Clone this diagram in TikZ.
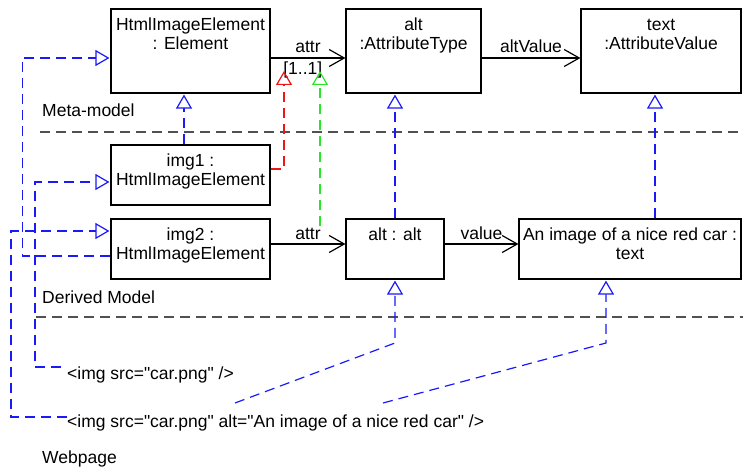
\documentclass[tikz,border=0pt]{standalone}
\usepackage{fontspec}
\setmainfont{Liberation Sans}[Ligatures=TeXOff]
\usetikzlibrary{arrows.meta,calc}
\definecolor{rblue}{RGB}{25,25,250}
\definecolor{rred}{RGB}{240,20,20}
\definecolor{rgreen}{RGB}{40,230,40}
\definecolor{rgrey}{RGB}{80,80,80}
\begin{document}
\begin{tikzpicture}[x=1pt,y=-1pt,
  every node/.style={font=\fontsize{17.5}{19}\selectfont},
  obj/.style={draw, line width=1.2pt, rectangle, inner sep=0pt},
  boxtext/.style={anchor=north, align=center, inner sep=0pt, yshift=-8.7pt},
  lab/.style={anchor=base, yshift=5pt},
  assoc/.style={line width=1.2pt, -{Straight Barb[length=15pt,width=17pt,line width=1.2pt]}},
  realbase/.style={line width=1.2pt, dash pattern=on 10pt off 6pt,
     -{Triangle[open,length=14pt,width=16pt,line width=1.2pt]}, shorten >=1pt},
  real/.style={realbase, draw=rblue},
  redreal/.style={realbase, draw=rred},
  greenreal/.style={realbase, draw=rgreen},
  sep/.style={line width=1.2pt, draw=rgrey, dash pattern=on 10pt off 6pt},
  plain/.style={inner sep=0pt}]
\useasboundingbox (0,0) rectangle (743,468);

% boxes
\node[obj, minimum width=159pt, minimum height=84pt,
  label={[boxtext]north:\strut HtmlImageElement\\: Element}] (hie) at (190.5,51) {};
\node[obj, minimum width=135pt, minimum height=84pt,
  label={[boxtext]north:\strut alt\\:AttributeType}] (at) at (413.5,51) {};
\node[obj, minimum width=160pt, minimum height=84pt,
  label={[boxtext]north:\strut text\\:AttributeValue}] (av) at (661,51) {};
\node[obj, minimum width=159pt, minimum height=60pt,
  label={[boxtext]north:\strut img1 :\\HtmlImageElement}] (img1) at (190.5,175) {};
\node[obj, minimum width=159pt, minimum height=60pt,
  label={[boxtext]north:\strut img2 :\\HtmlImageElement}] (img2) at (190.5,249) {};
\node[obj, minimum width=98pt, minimum height=60pt,
  label={[boxtext]north:\strut alt : alt}] (aa) at (395,249) {};
\node[obj, minimum width=222pt, minimum height=60pt,
  label={[boxtext]north:\strut An image of a nice red car :\\text}] (txt) at (630,249) {};

% texts
\node[plain, anchor=base west] (meta) at (42,117) {Meta-model};
\node[plain, anchor=base west] (derived) at (42,303) {Derived Model};
\node[plain, anchor=base west] (web) at (42,463) {Webpage};
\node[plain, anchor=base west] (src1) at (67,379) {<img src=\symbol{34}car.png\symbol{34} />};
\node[plain, anchor=base west] (src2) at (67,427) {<img src=\symbol{34}car.png\symbol{34} alt=\symbol{34}An image of a nice red car\symbol{34} />};

% separators
\coordinate (s1a) at (40,132); \coordinate (s1b) at (743,132);
\coordinate (s2a) at (36,317); \coordinate (s2b) at (743,317);
\draw[sep] (s1a) -- (s1b);
\draw[sep] (s2a) -- (s2b);

% associations
\draw[assoc] ([yshift=-7pt]hie.east) -- node[lab]{attr}
   node[pos=.43, anchor=base, yshift=-17pt]{[1..1]} ([yshift=-7pt]at.west);
\draw[assoc] ([yshift=-7pt]at.east) -- node[lab]{altValue} ([yshift=-7pt]av.west);
\draw[assoc] ([yshift=5pt]img2.east) -- node[lab]{attr} ([yshift=5pt]aa.west);
\draw[assoc] ([yshift=5pt]aa.east) -- node[lab]{value} ([yshift=5pt]txt.west);

% realizations
\draw[real] ([xshift=-6.5pt]img1.north) -- ([xshift=-6.5pt]img1.north |- hie.south);
\draw[real] (aa.north) -- (aa.north |- at.south);
\draw[real] ([xshift=25pt]txt.north) -- ([xshift=25pt]txt.north |- av.south);
\draw[real] ([yshift=-7pt]img2.west) -- ++(-88,0) |- ([yshift=-7pt]hie.west);
\draw[real] ([xshift=-6pt,yshift=12pt]src1.base west) -- ++(-26,0) |- ([yshift=-7pt]img1.west);
\draw[real] ([yshift=10pt]src2.base west) -- ++(-56,0) |- ([yshift=18pt]img2.west);
\coordinate (d1) at (235,403);
\coordinate (d2) at (383,403);
\draw[real] (d1) -- ++(160,-60) -- (aa.south);
\draw[real] (d2) -- ++(223,-60) -- ([xshift=-24pt]txt.south);

% red and green
\coordinate (r) at (284,70);
\draw[redreal] ([yshift=6pt]img1.east) -| (r);
\coordinate (g0) at (320,226);
\coordinate (g1) at (320,70);
\draw[greenreal] (g0) -- (g1);
\end{tikzpicture}
\end{document}
